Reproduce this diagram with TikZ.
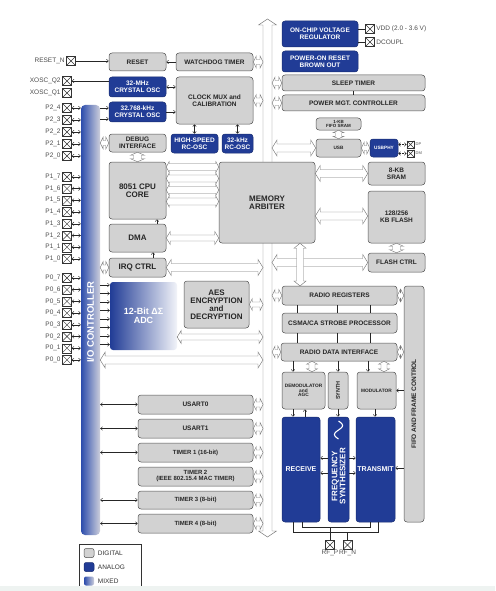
\documentclass[tikz,border=0pt]{standalone}
\usepackage{fontspec}
\setmainfont{Liberation Sans}
\usetikzlibrary{calc,arrows.meta,positioning}
\definecolor{anablue}{RGB}{33,60,150}
\definecolor{digray}{RGB}{210,210,210}
\definecolor{edgegray}{RGB}{80,80,80}
\definecolor{buscol}{RGB}{120,120,120}
\definecolor{mixblue}{RGB}{44,76,172}
\definecolor{iogray}{RGB}{205,207,220}
\definecolor{stripcol}{RGB}{238,243,241}
\def\holw{3pt}\def\holh{6pt}\def\holl{4pt}
\tikzset{
  blk/.style={draw=edgegray, fill=digray, rounded corners=3pt, line width=0.5pt, align=center,
    text=black!85, inner sep=1pt, font=\fontsize{6.5}{6.8}\selectfont\bfseries},
  ana/.style={blk, draw=anablue!75!black, fill=anablue, text=white},
  sz/.style 2 args={minimum width=#1pt, minimum height=#2pt},
  tsz/.style={font=\fontsize{#1}{#1}\selectfont\bfseries},
  padbox/.style={draw=black!80, line width=0.4pt, minimum size=9pt, inner sep=0pt,
    path picture={\draw[black!80,line width=0.4pt]
      (path picture bounding box.south west) -- (path picture bounding box.north east)
      (path picture bounding box.north west) -- (path picture bounding box.south east);}},
  padtxt/.style={font=\fontsize{6.5}{7}\selectfont, text=black!70, inner sep=0.5pt},
  sig/.style={draw=black!85, line width=0.45pt},
  hw/.code={\def\holw{#1}}, hh/.code={\def\holh{#1}}, hl/.code={\def\holl{#1}},
  hol/.style={draw=buscol, fill=white, line width=0.45pt, to path={
    let \p1=($(\tikztostart)!\holl!(\tikztotarget)$), \p2=($(\tikztotarget)!\holl!(\tikztostart)$) in
    -- ($(\p1)!\holh!90:(\tikztotarget)$) -- ($(\p1)!\holw!90:(\tikztotarget)$)
    -- ($(\p2)!\holw!-90:(\tikztostart)$) -- ($(\p2)!\holh!-90:(\tikztostart)$)
    -- (\tikztotarget)
    -- ($(\p2)!\holh!90:(\tikztostart)$) -- ($(\p2)!\holw!90:(\tikztostart)$)
    -- ($(\p1)!\holw!-90:(\tikztotarget)$) -- ($(\p1)!\holh!-90:(\tikztotarget)$)
    -- cycle}},
  hstub/.style={hol, hw=2.5pt, hh=6pt, hl=3pt},
  hmid/.style={hol, hw=3pt, hh=6.5pt, hl=4pt},
  hwide/.style={hol, hw=4pt, hh=8pt, hl=5pt},
}
\begin{document}
\begin{tikzpicture}[x=1pt,y=-1pt,>={Straight Barb[length=2pt,width=3.6pt]}]
\useasboundingbox (0,0) rectangle (495,591);

% main bus
\coordinate (bustop) at (267.5,19);
\coordinate (busbot) at (267.5,537);
\coordinate (busl) at (263,0);
\coordinate (busr) at (272,0);
\draw[hol,hw=4.5pt,hh=9pt,hl=6pt] (bustop) to (busbot);

% io controller and pads
\node[rounded corners=4pt, left color=mixblue, right color=iogray, sz={19}{430}] (io) at (90.5,320) {};
\node[rotate=90, text=white, tsz=9.5] (iotxt) at (90.5,322) {I/O CONTROLLER};

\node[padbox] (rstn) at (71,61) {};
\node[padtxt, left=1pt of rstn] (rstnt) {RESET\_N};
\node[padbox] (xq2) at (67,81) {};
\node[padtxt, left=1pt of xq2] (xq2t) {XOSC\_Q2};
\node[padbox] (xq1) at (67,93) {};
\node[padtxt, left=1pt of xq1] (xq1t) {XOSC\_Q1};

\foreach \i/\yy in {4/108,3/120,2/132,1/144,0/156} {
  \node[padbox] (p2\i) at (67,\yy) {};
  \node[padtxt, left=1pt of p2\i] (t2\i) {P2\_\i};
  \draw[sig,<->] (p2\i.east) -- (p2\i.east -| io.west);
}
\foreach \i/\yy in {7/177,6/188.7,5/200.4,4/212.1,3/223.8,2/235.5,1/247.2,0/258.9} {
  \node[padbox] (p1\i) at (67,\yy) {};
  \node[padtxt, left=1pt of p1\i] (t1\i) {P1\_\i};
  \draw[sig,<->] (p1\i.east) -- (p1\i.east -| io.west);
}
\foreach \i/\yy in {7/278,6/289.7,5/301.4,4/313.1,3/324.8,2/336.5,1/348.2,0/359.9} {
  \node[padbox] (p0\i) at (67,\yy) {};
  \node[padtxt, left=1pt of p0\i] (t0\i) {P0\_\i};
  \draw[sig,<->] (p0\i.east) -- (p0\i.east -| io.west);
}

% clocks and reset
\node[blk, sz={57}{18}] (reset) at (137.5,62) {RESET};
\node[blk, sz={77}{18}] (wdt) at (214.5,62) {WATCHDOG TIMER};
\node[ana, sz={57}{20}] (xo32) at (137.5,87) {32-MHz\\CRYSTAL OSC};
\node[ana, sz={57}{20}] (xo32k) at (137.5,112) {32.768-kHz\\CRYSTAL OSC};
\node[blk, sz={77}{47}] (clk) at (214.5,100.5) {CLOCK MUX and\\CALIBRATION};
\node[blk, sz={57}{18}] (dbg) at (137.5,143) {DEBUG\\INTERFACE};
\node[ana, sz={47}{19}] (hsrc) at (194.5,143.5) {HIGH-SPEED\\RC-OSC};
\node[ana, sz={31}{19}] (lrc) at (237.5,143.5) {32-kHz\\RC-OSC};

\draw[sig,->] (rstn.east) -- (reset.west |- rstn.east);
\draw[sig,->] (wdt.west) -- (reset.east);
\draw[sig,->] (xo32.west |- xq2) -- (xq2.east);
\draw[sig,<->] (xo32.east) -- (clk.west |- xo32.east);
\draw[sig,->] (xo32k.east) -- (clk.west |- xo32k.east);
\foreach \yy in {108,119}
  \draw[sig,->] (io.east |- 0,\yy) -- (xo32k.west |- 0,\yy);
\draw[sig,<->] (clk.south -| hsrc.north) -- (hsrc.north);
\draw[sig,<->] (clk.south -| lrc.north) -- (lrc.north);
\draw[hstub] (wdt.east) to (wdt.east -| busl);
\draw[hstub] (clk.east) to (clk.east -| busl);
\draw[hstub] (io.east |- dbg.west) to (dbg.west);

% power
\node[ana, sz={76}{26}] (vreg) at (320,34) {ON-CHIP VOLTAGE\\REGULATOR};
\node[padbox] (vdd) at (370,29) {};
\node[padtxt, right=1pt of vdd] (vddt) {VDD (2.0 - 3.6 V)};
\node[padbox] (dcpl) at (370,42) {};
\node[padtxt, right=1pt of dcpl] (dcplt) {DCOUPL};
\draw[sig] (vreg.east |- vdd) -- (vdd.west);
\draw[sig] (vreg.east |- dcpl) -- (dcpl.west);
\node[ana, sz={76}{21}] (por) at (320,61.5) {POWER-ON RESET\\BROWN OUT};
\node[blk, sz={143}{16}] (sleep) at (353.5,83) {SLEEP TIMER};
\node[blk, sz={143}{16}] (pmc) at (353.5,103) {POWER MGT. CONTROLLER};
\draw[sig] (sleep.south) -- (pmc.north);
\draw[hstub] (sleep.west -| busr) to (sleep.west);
\draw[hstub] (pmc.west -| busr) to (pmc.west);

% usb
\node[blk, sz={45}{12}, tsz=4.5] (fsram) at (338.5,124) {1-KB\\FIFO SRAM};
\node[blk, sz={45}{18}, tsz=4.7] (usb) at (338.5,148) {USB};
\node[ana, sz={28}{18}, tsz=4.7] (usbphy) at (384,148) {USBPHY};
\node[padbox, minimum size=7.5pt] (dp) at (410.5,144.5) {};
\node[padtxt, right=0.5pt of dp, font=\fontsize{4}{4}\selectfont] (dpt) {DP};
\node[padbox, minimum size=7.5pt] (dm) at (410.5,153.5) {};
\node[padtxt, right=0.5pt of dm, font=\fontsize{4}{4}\selectfont] (dmt) {DM};
\draw[hol, hw=3pt, hh=5.5pt, hl=2.5pt] (fsram.south) to (usb.north);
\draw[hstub] (usb.east) to (usbphy.west);
\draw[sig, densely dotted, <->] (usbphy.east |- dp) -- (dp.west);
\draw[sig, densely dotted, <->] (usbphy.east |- dm) -- (dm.west);
\draw[hwide] (usb.west -| busr) to (usb.west);

% memory
\node[blk, sz={57}{23}] (sram) at (396.5,173.5) {8-KB\\SRAM};
\node[blk, sz={57}{52}] (flash) at (396.5,217) {128/256\\KB FLASH};
\node[blk, sz={57}{19}] (fctl) at (396.5,262.5) {FLASH CTRL};
\node[blk, sz={96}{81}, tsz=8] (arb) at (267,202.5) {MEMORY\\ARBITER};
\node[blk, sz={57}{57}, tsz=8] (cpu) at (137.5,190.5) {8051 CPU\\CORE};
\node[blk, sz={57}{28}, tsz=8] (dma) at (137.5,238) {DMA};
\node[blk, sz={57}{19}, tsz=8] (irq) at (137.5,267.5) {IRQ CTRL};

\draw[hwide] (arb.east |- sram.west) to (sram.west);
\draw[hwide] (arb.east |- 0,216) to (flash.west |- 0,216);
\draw[hwide] (fctl.west -| busr) to (fctl.west);
\draw[hol, hw=4pt, hh=7pt, hl=3pt] (flash.south) to (fctl.north);
\draw[hol, hw=3.5pt, hh=6pt, hl=5pt] (arb.south -| 300,0) to (300,286);
\draw[hol, hw=4pt, hh=7pt, hl=3pt] (dbg.south) to (cpu.north);
\foreach \yy in {167,178.5,190,201.5}
  \draw[hol, hw=3.5pt, hh=5.5pt, hl=3pt] (cpu.east |- 0,\yy) to (arb.west |- 0,\yy);
\draw[hmid] (dma.east) to (dma.east -| arb.west);
\draw[sig,->] (dma.north -| 157,0) -- (cpu.south -| 157,0);
\draw[sig,->] (irq.north -| 153,0) -- (dma.south -| 153,0);
\draw[hstub] (io.east |- irq.west) to (irq.west);
\draw[hwide] (irq.east) to (irq.east -| busl);

% adc and aes
\node[rounded corners=3pt, left color=anablue, right color=white!94!anablue, sz={67}{68},
  text=white, align=center, tsz=9] (adc) at (143.5,316) {12-Bit ΔΣ\\ADC};
\node[blk, sz={65}{47}, tsz=8] (aes) at (216.5,304.5) {AES\\ENCRYPTION\\and\\DECRYPTION};
\foreach \yy in {285,293.5,302,310.5,319,327.5,336,344.5}
  \draw[sig,->] (io.east |- 0,\yy) -- (adc.west |- 0,\yy);
\draw[hstub] (aes.east) to (aes.east -| busl);
\draw[hmid] (adc.east |- 0,337) to (busl |- 0,337);
\draw[hwide] (io.east |- 0,360) to (busl |- 0,360);

% timers
\node[blk, sz={115}{19}] (usart0) at (195.5,404.5) {USART0};
\node[blk, sz={115}{19}] (usart1) at (195.5,428.5) {USART1};
\node[blk, sz={115}{19}, tsz=6] (tim1) at (195.5,452.5) {TIMER 1 (16-bit)};
\node[blk, sz={115}{19}, tsz=6] (tim2) at (195.5,476.5) {TIMER 2\\(IEEE 802.15.4 MAC TIMER)};
\node[blk, sz={115}{18}, tsz=6] (tim3) at (195.5,500) {TIMER 3 (8-bit)};
\node[blk, sz={115}{19}, tsz=6] (tim4) at (195.5,523.5) {TIMER 4 (8-bit)};
\foreach \t in {usart0,usart1,tim1,tim3,tim4}
  \draw[sig,<->] (io.east |- \t.west) -- (\t.west);
\foreach \t in {usart0,usart1,tim1,tim2,tim3,tim4}
  \draw[hstub] (\t.east) to (\t.east -| busl);

% radio
\node[blk, sz={115}{19}] (rreg) at (339.5,295.5) {RADIO REGISTERS};
\node[blk, sz={115}{20}] (csma) at (339.5,323) {CSMA/CA STROBE PROCESSOR};
\node[blk, sz={116}{18}] (rdi) at (339,352) {RADIO DATA INTERFACE};
\node[blk, rotate=90, sz={236}{20}] (fifoc) at (414,404) {FIFO AND FRAME CONTROL};
\node[blk, sz={43}{37}, tsz=4.8] (demod) at (303.5,390.5) {DEMODULATOR\\and\\AGC};
\node[blk, rotate=90, sz={37}{20}, tsz=5.5] (synth) at (338,390.5) {SYNTH};
\node[blk, sz={39}{37}, tsz=4.8] (mod) at (376.5,390.5) {MODULATOR};
\node[ana, sz={38}{105}, tsz=7] (rx) at (301,469.5) {RECEIVE};
\node[ana, sz={21}{105}] (fs) at (338.5,469.5) {};
\node[rotate=90, text=white, align=center, tsz=8] (fstxt) at (338.5,476) {FREQUENCY\\SYNTHESIZER};
\node[ana, sz={39}{105}, tsz=7] (tx) at (375.5,469.5) {TRANSMIT};
\draw[white, line width=1.1pt] plot[domain=0:360, samples=40, smooth] ({338.5+4*sin(\x)},{421+\x/20});

\foreach \xx in {297,337,370} {
  \draw[sig] (rreg.south -| \xx,0) -- (csma.north -| \xx,0);
  \draw[sig] (csma.south -| \xx,0) -- (rdi.north -| \xx,0);
}
\draw[hstub] (rreg.west -| busr) to (rreg.west);
\draw[hstub] (rreg.east) to (rreg.east -| fifoc.north);
\draw[hstub] (rdi.west -| busr) to (rdi.west);
\draw[hstub] (rdi.east) to (rdi.east -| fifoc.north);
\draw[sig,->] (rdi.south -| 293,0) -- (demod.north -| 293,0);
\draw[hol, hw=3pt, hh=5.5pt, hl=3pt] (rdi.south -| 312,0) to (demod.north -| 312,0);
\draw[sig,->] (rdi.south -| synth.east) -- (synth.east);
\draw[sig,->] (rdi.south -| 368,0) -- (mod.north -| 368,0);
\draw[hol, hw=3pt, hh=5.5pt, hl=3pt] (rdi.south -| 384,0) to (mod.north -| 384,0);
\draw[sig,->] (mod.east -| fifoc.north) -- (mod.east);
\draw[sig,->] (fifoc.north |- 0,468) -- (tx.east |- 0,468);
\draw[sig,->] (demod.south -| 293,0) -- (rx.north -| 293,0);
\draw[sig,->] (rx.north -| 305,0) -- (demod.south -| 305,0);
\draw[sig,->] (synth.west) -- (synth.west |- fs.north);
\draw[sig,->] (mod.south -| 375,0) -- (tx.north -| 375,0);
\foreach \yy in {458,473} {
  \draw[sig,->] (fs.west |- 0,\yy) -- (rx.east |- 0,\yy);
  \draw[sig,->] (fs.east |- 0,\yy) -- (tx.west |- 0,\yy);
}
\node[padbox] (rfp) at (330,545) {};
\node[padtxt, below=0pt of rfp] (rfpt) {RF\_P};
\node[padbox] (rfn) at (347.5,545) {};
\node[padtxt, below=0pt of rfn] (rfnt) {RF\_N};
\draw[sig] (rx.south -| 302,0) -- (302,527) -- (370,527) -- (tx.south -| 370,0);
\draw[sig] (rx.south -| 293,0) -- (293,532) -- (378,532) -- (tx.south -| 378,0);
\draw[sig] (rfp.north) -- (rfp.north |- 0,527);
\draw[sig] (rfn.north) -- (rfn.north |- 0,532);

% legend
\node[draw=black!80, line width=0.5pt, sz={62}{50}] (legend) at (110,569) {};
\node[blk, sz={10}{9}, rounded corners=2pt] (lgdig) at (89,553) {};
\node[padtxt, right=3pt of lgdig, text=black!80] (lgdigt) {DIGITAL};
\node[ana, sz={10}{9}, rounded corners=2pt] (lgana) at (89,567) {};
\node[padtxt, right=3pt of lgana, text=black!80] (lganat) {ANALOG};
\node[rounded corners=2pt, left color=mixblue, right color=iogray, sz={10}{9}] (lgmix) at (89,581) {};
\node[padtxt, right=3pt of lgmix, text=black!80] (lgmixt) {MIXED};
\fill[stripcol] (0,586) rectangle (495,591);
\end{tikzpicture}
\end{document}
